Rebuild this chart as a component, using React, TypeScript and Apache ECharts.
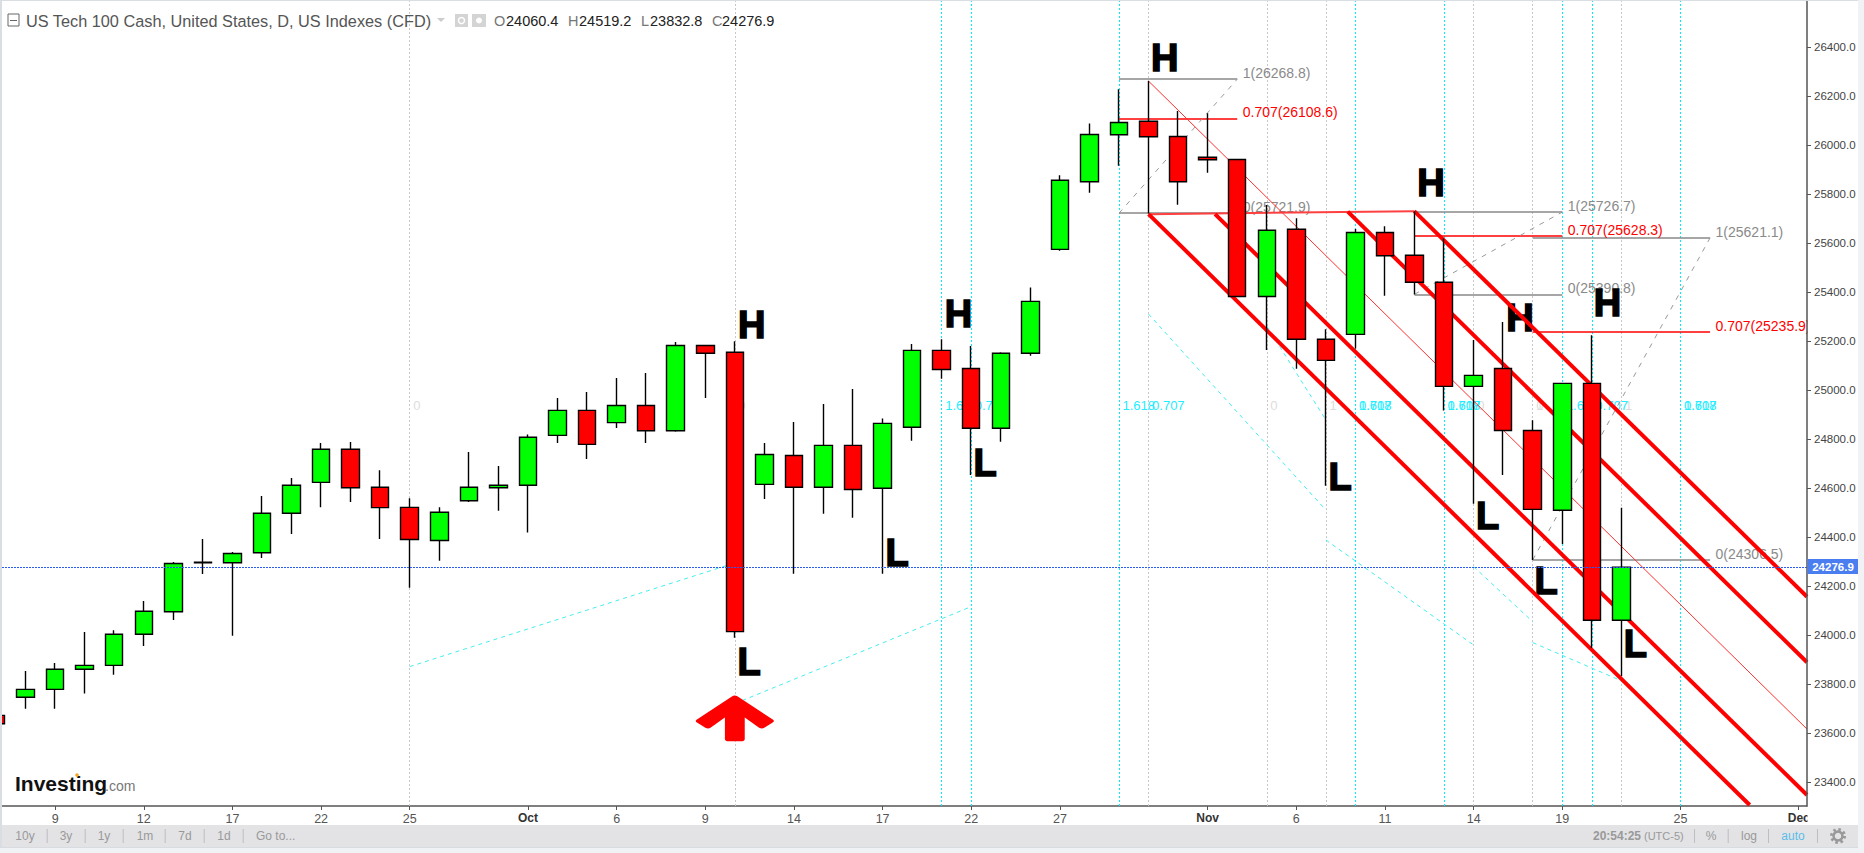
import React, { useEffect, useRef } from "react";
import * as echarts from "echarts";

// ---- OHLC (index = trading day, Sep 5 .. Nov 21)
const opens = [23672,23746,23778,23860,23876,24003,24095,24295,24295,24336,24497,24623,24758,24603,24521,24386,24548,24601,24611,24815,24917,24867,24937,24834,25182,25154,24615,24733,24603,24774,24599,24848,25162,25088,24844,25150,25574,25850,26042,26097,26035,25950,25941,25382,25656,25207,25227,25643,25550,25440,25015,25088,24835,24509,25027,24060.4];
const closes = [23638,23778,23860,23876,24003,24097,24292,24297,24333,24497,24611,24758,24601,24520,24390,24501,24603,24611,24807,24917,24778,24937,24834,25182,25150,24014,24737,24603,24774,24594,24864,25162,25084,24844,25150,25362,25856,26043,26092,26034,25850,25940,25382,25652,25207,25121,25643,25548,25440,25015,25060,24835,24513,25027,24060,24276.9];
const lows = [23620,23699,23699,23761,23838,23955,24061,24249,23997,24314,24412,24522,24543,24392,24193,24303,24543,24507,24418,24784,24718,24845,24784,24830,24967,23989,24555,24250,24495,24479,24250,24793,25046,24653,24789,25140,25569,25805,25916,25721,25756,25887,25382,25163,25087,24609,25169,25385,25390,24916,24536,24653,24306,24371,23947,23832.8];
const highs = [23690,23853,23886,24012,24019,24139,24298,24392,24339,24567,24641,24784,24788,24673,24558,24521,24747,24690,24818,24967,24992,25049,25069,25196,25182,25199,24784,24869,24943,25004,24884,25188,25207,25180,25154,25419,25877,26088,26228,26261,26139,26130,25941,25755,25701,25248,25657,25669,25730,25619,25204,25278,24877,25027,25224,24519.2];

// ---- axes
const xMin = 0.203;
const xMax = 61.28;
const yMin = 23302;
const yMax = 26588;
const yTicks = [23400,23600,23800,24000,24200,24400,24600,24800,25000,25200,25400,25600,25800,26000,26200,26400];
const xTickIndex = [2,5,8,11,14,18,21,24,27,30,33,36,41,44,47,50,53,57,61];
const xTickText = ["9","12","17","22","25","Oct","6","9","14","17","22","27","Nov","6","11","14","19","25","Dec"];
const lastPrice = 24276.9;

// ---- drawing tools, in [index, price]
const grayVerticals = [14,25,39,43,45,50,52,55];
const cyanVerticals = [32,33,38,46,49,53,54,57];
const channelThick = [
  [[39,25718],[59.34,23306]],
  [[41.25,25718],[61.28,23347]],
  [[45.74,25728],[61.28,23889]],
  [[47.99,25730],[61.28,24156]],
];
const channelMedian = [[[39,26261],[61.28,23616]]];
const channelHandle = [[[39,25718],[47.99,25730]]];
const cyanDiagonals = [
  [[14,23871],[25,24294]],
  [[25,23720],[33,24116]],
  [[39,25310],[45,24510]],
  [[43,25261],[45,24878]],
  [[45,24388],[50,23959]],
  [[50,24279],[52,24054]],
  [[52,23969],[55,23813]],
];
const fibSpans = [[38,42],[48,53],[52,58]];
const fibOne = [26268.8,25726.7,25621.1];
const fibMid = [26108.6,25628.3,25235.9];
const fibZero = [25721.9,25390.8,24306.5];
const timeLabelPrice = 24936;
const timeLabelsGray: [number,string][] = [[14,"0"],[25,"0"],[43,"0"],[45,"1"],[50,"0"],[52,"0"],[52,"1"],[55,"1"]];
const timeLabelsCyan: [number,string][] = [[32,"1.618"],[33,"0.707"],[38,"1.618"],[39,"0.707"],[46,"1.618"],[46,"0.707"],[49,"1.618"],[49,"0.707"],[53,"1.618"],[54,"0.707"],[57,"1.618"],[57,"0.707"]];
const letters: [string,number,number][] = [
  ["H",25.57,25267],["L",25.48,23888],["H",32.57,25310],["L",33.47,24704],["L",30.49,24333],
  ["H",39.55,26357],["H",48.56,25845],["L",45.48,24643],["H",51.57,25292],["H",54.53,25357],
  ["L",50.47,24484],["L",52.45,24220],["L",55.47,23965],
];
const arrowAt = [25,23659];

const FONT = "Liberation Sans";
const toolbarLeft: [string,number][] = [["10y",25],["3y",66],["1y",104],["1m",145],["7d",185],["1d",224]];
const toolbarSeps = [46.7,84.7,122.7,164.7,203.7,242.7,1694,1727.7,1768,1817];
const ohlcLabels: [string,number,string,number][] = [["O",494,"24060.4",506],["H",568,"24519.2",579],["L",641,"23832.8",650],["C",712,"24276.9",722]];

const lineSeries = (segs: number[][][], lineStyle: any, z: number) => ({
  type: "lines", coordinateSystem: "cartesian2d", polyline: false, silent: true, z,
  lineStyle: { opacity: 1, curveness: 0, ...lineStyle },
  data: segs.map((coords) => ({ coords })),
});

const txt = (text: string, x: number, y: number, fill: string, extra: any = {}) => ({
  type: "text", x, y, z: 100,
  style: { text, fill, font: `12px "${FONT}"`, textVerticalAlign: "middle", verticalAlign: "middle", ...extra },
});

const rect = (x: number, y: number, width: number, height: number, fill: string, z = 100) => ({
  type: "rect", z, shape: { x, y, width, height }, style: { fill },
});

export default function App() {
  const ref = useRef<HTMLDivElement>(null);
  useEffect(() => {
    const chart = echarts.init(ref.current!, undefined, { renderer: "svg" });
    const candles = opens.map((o, i) => [i, o, closes[i], lows[i], highs[i]]);
    const fibSeg = (vals: number[]) => fibSpans.map(([a, b], k) => [[a, vals[k]], [b, vals[k]]]);
    const fibDiag = fibSpans.map(([a, b], k) => [[a, fibZero[k]], [b, fibOne[k]]]);
    const fibLabels = fibSpans.flatMap(([, b], k) => [
      { value: [b, fibOne[k]], name: `1(${fibOne[k].toFixed(1)})`, label: { color: "#8a8a8a" } },
      { value: [b, fibMid[k]], name: `0.707(${fibMid[k].toFixed(1)})`, label: { color: "#ff0000" } },
      { value: [b, fibZero[k]], name: `0(${fibZero[k].toFixed(1)})`, label: { color: "#8a8a8a" } },
    ]);
    const labelScatter = (data: any[], label: any, z: number) => ({
      type: "scatter", symbolSize: 1, silent: true, z, clip: false,
      itemStyle: { color: "transparent", opacity: 1 },
      label: { show: true, formatter: "{b}", fontFamily: FONT, ...label },
      data,
    });

    chart.setOption({
      animation: false,
      backgroundColor: "#ffffff",
      grid: { left: 2, right: 57, top: 1, bottom: 47, show: false },
      tooltip: { show: false },
      xAxis: {
        type: "value", min: xMin, max: xMax, splitLine: { show: false },
        axisLine: { onZero: false, lineStyle: { color: "#555", width: 1.5 } },
        axisTick: { customValues: xTickIndex, length: 4, lineStyle: { color: "#555" } },
        axisLabel: {
          customValues: xTickIndex, margin: 6, fontFamily: FONT, fontSize: 12.5, color: "#555",
          showMinLabel: true, showMaxLabel: true, hideOverlap: false,
          formatter: (v: number) => {
            const t = xTickText[xTickIndex.indexOf(Math.round(v))] ?? "";
            return /[A-Z]/.test(t) ? `{m|${t}}` : t;
          },
          rich: { m: { color: "#333", fontWeight: "bold", fontFamily: FONT, fontSize: 12 } },
        },
      },
      yAxis: {
        type: "value", position: "right", min: yMin, max: yMax, scale: true, splitLine: { show: false }, z: 50,
        axisLine: { show: true, lineStyle: { color: "#555", width: 1.5 } },
        axisTick: { show: true, customValues: yTicks, length: 4, lineStyle: { color: "#555" } },
        axisLabel: {
          customValues: yTicks, margin: 7, fontFamily: FONT, fontSize: 11.5, color: "#444",
          formatter: (v: number) => v.toFixed(1),
        },
      },
      series: [
        lineSeries(grayVerticals.map((i) => [[i, yMin], [i, yMax]]), { color: "#c8c8c8", width: 1, type: [2, 2] }, 1),
        lineSeries(cyanVerticals.map((i) => [[i, yMin], [i, yMax]]), { color: "#00eeff", width: 1, type: [2, 2] }, 1),
        lineSeries(cyanDiagonals, { color: "#44eeee", width: 1, type: [4, 4] }, 1),
        labelScatter(timeLabelsGray.map(([i, t]) => ({ value: [i, timeLabelPrice], name: t })), { position: "right", distance: 3, fontSize: 13, color: "#dddddd" }, 2),
        labelScatter(timeLabelsCyan.map(([i, t]) => ({ value: [i, timeLabelPrice], name: t })), { position: "right", distance: 3, fontSize: 13, color: "#22eeff" }, 2),
        lineSeries(fibSeg(fibOne), { color: "#888888", width: 1.5 }, 3),
        lineSeries(fibSeg(fibZero), { color: "#888888", width: 1.5 }, 3),
        lineSeries(fibSeg(fibMid), { color: "#ff0000", width: 1.5 }, 3),
        lineSeries(fibDiag, { color: "#999999", width: 1, type: [5, 6] }, 3),
        labelScatter(fibLabels, { position: "right", distance: 5, offset: [0, -6], fontSize: 14 }, 3),
        labelScatter(letters.map(([t, i, p]) => ({ value: [i, p], name: t })), { position: "inside", fontSize: 38, fontWeight: "bold", color: "#000", textBorderColor: "#000", textBorderWidth: 1.6 }, 4),
        lineSeries(channelHandle, { color: "#ff4040", width: 2 }, 5),
        lineSeries(channelMedian, { color: "#ff3030", width: 1 }, 5),
        lineSeries(channelThick, { color: "#ff0000", width: 4 }, 5),
        {
          type: "scatter", silent: true, z: 6,
          symbol: "path://M0,0 L35,23 L27,28 L6,13 L6,41 L-6,41 L-6,13 L-27,28 L-35,23 Z",
          symbolSize: [70, 41],
          itemStyle: { color: "#ff0000", opacity: 1, borderColor: "#ff0000", borderWidth: 6, borderJoin: "round" },
          data: [arrowAt],
        },
        {
          type: "candlestick", silent: true, z: 7, barWidth: 18, clip: true,
          encode: { x: 0, y: [1, 2, 3, 4] },
          itemStyle: { color: "#00ff00", color0: "#ff0000", borderColor: "#000", borderColor0: "#000", borderWidth: 1.4 },
          data: candles,
        },
        lineSeries([[[xMin, lastPrice], [xMax, lastPrice]]], { color: "#2a5bf0", width: 1, type: [2, 1] }, 8),
      ],
      graphic: [
        // frame and toolbar
        rect(1807.5, 0, 52, 806, "#ffffff", 3.5),
        rect(1858, 0, 6, 853, "#f1f2f6", 90),
        rect(0, 0, 2, 847, "#dadde2", 90),
        rect(0, 0, 1858, 1, "#dadde2", 90),
        rect(1807.5, 808, 50.5, 17, "#ffffff", 90),
        rect(2, 825, 1856, 22, "#e3e3e6", 90),
        rect(0, 847, 1864, 6, "#f1f2f6", 90),
        rect(0, 847, 1858, 1, "#d8dbe0", 90),
        ...toolbarSeps.map((x) => rect(x, 829, 1, 14, "#bdbdc2", 91)),
        ...toolbarLeft.map(([t, x]) => txt(t, x, 836, "#999", { textAlign: "center", align: "center" })),
        txt("Go to...", 256, 836, "#999"),
        txt("20:54:25", 1593, 836, "#999", { font: `bold 12px "${FONT}"` }),
        txt("(UTC-5)", 1644, 836, "#999", { font: `11px "${FONT}"` }),
        txt("%", 1711, 836, "#999", { textAlign: "center", align: "center" }),
        txt("log", 1749, 836, "#999", { textAlign: "center", align: "center" }),
        txt("auto", 1793, 836, "#5bbde8", { textAlign: "center", align: "center" }),
        { type: "circle", z: 100, shape: { cx: 1838, cy: 836, r: 6.5 }, style: { fill: "none", stroke: "#999", lineWidth: 3, lineDash: [2.5, 2.6] } },
        { type: "circle", z: 100, shape: { cx: 1838, cy: 836, r: 4.5 }, style: { fill: "none", stroke: "#999", lineWidth: 2.5 } },
        // price tag
        rect(1807.5, 559, 50.5, 15, "#4a7ef0", 92),
        txt(lastPrice.toFixed(1), 1833, 566.5, "#fff", { textAlign: "center", align: "center", font: `bold 11.5px "${FONT}"`, }),
        // header
        { type: "rect", z: 100, shape: { x: 8, y: 14, width: 11, height: 12 }, style: { fill: "#fff", stroke: "#666", lineWidth: 1 } },
        rect(10, 20, 7, 1, "#666"),
        txt("US Tech 100 Cash, United States, D, US Indexes (CFD)", 26, 20.5, "#555", { font: `16.3px "${FONT}"` }),
        { type: "polygon", z: 100, shape: { points: [[437, 18], [445, 18], [441, 22]] }, style: { fill: "#ccc" } },
        rect(455, 14, 13, 13, "#d4d4d4"),
        rect(472, 14, 14, 13, "#d4d4d4"),
        { type: "circle", z: 101, shape: { cx: 461.5, cy: 20.5, r: 3 }, style: { fill: "none", stroke: "#fff", lineWidth: 1.5 } },
        { type: "circle", z: 101, shape: { cx: 479, cy: 20.5, r: 3 }, style: { fill: "#fff" } },
        ...ohlcLabels.flatMap(([k, kx, v, vx]) => [
          txt(k, kx, 20.5, "#777", { font: `14.5px "${FONT}"` }),
          txt(v, vx, 20.5, "#222", { font: `14.5px "${FONT}"` }),
        ]),
        // logo
        txt("Investing", 15, 783, "#111", { font: `bold 21px "${FONT}"` }),
        txt(".com", 105, 786, "#777", { font: `14px "${FONT}"` }),
        { type: "circle", z: 101, shape: { cx: 77, cy: 775, r: 1.8 }, style: { fill: "#f5a623" } },
      ],
    });
    return () => chart.dispose();
  }, []);
  return (
    <div style={{ position: "fixed", left: 0, top: 0, width: 1864, height: 853, background: "#fff" }}>
      <div ref={ref} style={{ width: 1864, height: 853 }} />
    </div>
  );
}
